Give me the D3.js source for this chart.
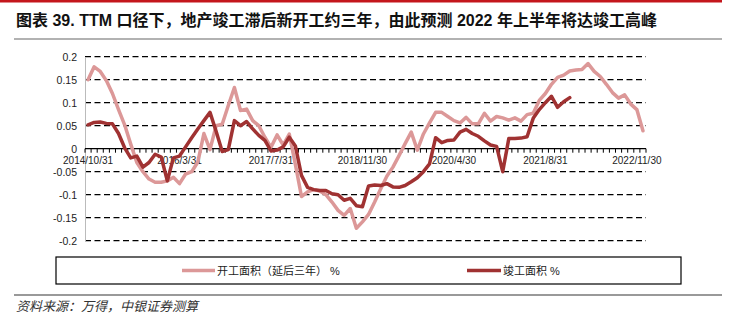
<!DOCTYPE html>
<html>
<head>
<meta charset="utf-8">
<script src="https://cdn.jsdelivr.net/npm/d3@7/dist/d3.min.js"></script>
<style>
  html, body { margin: 0; padding: 0; background: #fff; }
  svg { display: block; }
</style>
</head>
<body>
<svg id="chart" width="732" height="325"></svg>
<script>
// ---------- data ----------
const categories = [
  "2014/10/31","2014/11/30","2014/12/31",
  "2015/2/28","2015/3/31","2015/4/30","2015/5/31","2015/6/30","2015/7/31","2015/8/31","2015/9/30","2015/10/31","2015/11/30","2015/12/31",
  "2016/2/29","2016/3/31","2016/4/30","2016/5/31","2016/6/30","2016/7/31","2016/8/31","2016/9/30","2016/10/31","2016/11/30","2016/12/31",
  "2017/2/28","2017/3/31","2017/4/30","2017/5/31","2017/6/30","2017/7/31","2017/8/31","2017/9/30","2017/10/31","2017/11/30","2017/12/31",
  "2018/2/28","2018/3/31","2018/4/30","2018/5/31","2018/6/30","2018/7/31","2018/8/31","2018/9/30","2018/10/31","2018/11/30","2018/12/31",
  "2019/2/28","2019/3/31","2019/4/30","2019/5/31","2019/6/30","2019/7/31","2019/8/31","2019/9/30","2019/10/31","2019/11/30","2019/12/31",
  "2020/2/29","2020/3/31","2020/4/30","2020/5/31","2020/6/30","2020/7/31","2020/8/31","2020/9/30","2020/10/31","2020/11/30","2020/12/31",
  "2021/2/28","2021/3/31","2021/4/30","2021/5/31","2021/6/30","2021/7/31","2021/8/31","2021/9/30","2021/10/31","2021/11/30","2021/12/31",
  "2022/1/31","2022/2/28","2022/3/31","2022/4/30","2022/5/31","2022/6/30","2022/7/31","2022/8/31","2022/9/30","2022/10/31","2022/11/30","2022/12/31"
];

// 开工面积（延后三年） %
const startsLagged = [
  0.150, 0.178, 0.168, 0.148, 0.120, 0.085, 0.052, 0.010, -0.030, -0.050,
  -0.066, -0.073, -0.073, -0.070, -0.062, -0.076, -0.055, -0.050, -0.029, 0.033,
  -0.002, 0.050, 0.053, 0.094, 0.133, 0.083, 0.086, 0.061, 0.050, 0.025,
  0.003, 0.030, 0.008, 0.032, -0.034, -0.104, -0.094, -0.089, -0.092, -0.100,
  -0.116, -0.134, -0.145, -0.130, -0.173, -0.159, -0.143, -0.116, -0.087, -0.060,
  -0.040, -0.015, 0.011, 0.036, -0.003, 0.032, 0.056, 0.079, 0.079, 0.070,
  0.061, 0.056, 0.068, 0.054, 0.054, 0.077, 0.060, 0.070, 0.067, 0.062,
  0.067, 0.060, 0.074, 0.077, 0.105, 0.120, 0.140, 0.155, 0.160, 0.169,
  0.171, 0.172, 0.185, 0.168, 0.157, 0.140, 0.122, 0.110, 0.117, 0.097,
  0.085, 0.039
];

// 竣工面积 %
const completions = [
  0.052, 0.057, 0.058, 0.055, 0.054, 0.033, 0.002, -0.020, -0.016, -0.040,
  -0.030, -0.012, -0.018, -0.070, -0.020, -0.016, 0.004, 0.024, 0.043, 0.061,
  0.079, 0.038, -0.006, -0.002, 0.061, 0.050, 0.059, 0.043, 0.029, 0.018,
  -0.005, -0.003, 0.004, 0.025, 0.006, -0.058, -0.084, -0.089, -0.091, -0.091,
  -0.098, -0.100, -0.112, -0.108, -0.124, -0.126, -0.081, -0.079, -0.080, -0.076,
  -0.083, -0.084, -0.080, -0.072, -0.063, -0.050, -0.033, 0.024, 0.013, 0.018,
  0.019, 0.036, 0.042, 0.033, 0.027, 0.017, 0.008, 0.005, -0.050, 0.022,
  0.022, 0.023, 0.026, 0.066, 0.085, 0.100, 0.114, 0.090, 0.102, 0.111
];

const xTickLabels = ["2014/10/31","2016/3/31","2017/7/31","2018/11/30","2020/4/30","2021/8/31","2022/11/30"];
const yTicks = [-0.2, -0.15, -0.1, -0.05, 0, 0.05, 0.1, 0.15, 0.2];
const yTickLabels = ["-0.2","-0.15","-0.1","-0.05","0","0.05","0.1","0.15","0.2"];
const seriesNames = ["开工面积（延后三年） %", "竣工面积 %"];
const titleText = "图表 39. TTM 口径下，地产竣工滞后新开工约三年，由此预测 2022 年上半年将达竣工高峰";
const sourceText = "资料来源：万得，中银证券测算";

// ---------- drawing ----------
const latin = "'Liberation Sans', Arial, 'Noto Sans CJK SC', sans-serif";
const cjk = "'Liberation Sans', 'Noto Sans CJK SC', sans-serif";
const lightColor = "#dc9898";
const darkColor = "#a03232";

const svg = d3.select("#chart");
svg.append("rect").attr("width", 732).attr("height", 325).attr("fill", "#fff");

// top red rule
svg.append("rect").attr("x", 0).attr("y", 0).attr("width", 722).attr("height", 2.5).attr("fill", "#c4161c");

// title
svg.append("text")
  .attr("x", 16).attr("y", 26)
  .attr("font-family", cjk).attr("font-size", 16).attr("font-weight", "bold")
  .attr("fill", "#111")
  .text(titleText);

svg.append("line").attr("x1", 14).attr("x2", 722).attr("y1", 39).attr("y2", 39)
  .attr("stroke", "#999").attr("stroke-width", 1.5);

const plot = { left: 85, right: 646, top: 56.7, bottom: 240.7 };

const x = d3.scaleBand().domain(categories).range([plot.left, plot.right]).paddingInner(0).paddingOuter(0);
const y = d3.scaleLinear().domain([-0.2, 0.2]).range([plot.bottom, plot.top]);
const cx = c => x(c) + x.bandwidth() / 2;

// gridlines (dashed)
svg.append("g").selectAll("line").data(yTicks.filter(v => v !== 0)).join("line")
  .attr("x1", plot.left).attr("x2", plot.right)
  .attr("y1", d => y(d)).attr("y2", d => y(d))
  .attr("stroke", "#000").attr("stroke-width", 1.2)
  .attr("stroke-dasharray", "6,3.5");

// y axis
const yAxis = svg.append("g").attr("transform", `translate(${plot.left},0)`)
  .call(d3.axisLeft(y).tickValues(yTicks).tickSize(0).tickPadding(8)
    .tickFormat((d, i) => yTickLabels[i]));
yAxis.select(".domain").attr("stroke", "#bbb").attr("stroke-width", 1);
yAxis.selectAll("text").attr("font-family", latin).attr("font-size", 10.5).attr("fill", "#222");

// x axis at zero
const xAxis = svg.append("g").attr("transform", `translate(0,${y(0)})`)
  .call(d3.axisBottom(x).tickValues(xTickLabels).tickSize(0).tickPadding(8));
xAxis.select(".domain").remove();
xAxis.selectAll("text").attr("font-family", latin).attr("font-size", 10).attr("fill", "#222");

svg.append("line").attr("x1", plot.left).attr("x2", plot.right)
  .attr("y1", y(0)).attr("y2", y(0)).attr("stroke", "#000").attr("stroke-width", 1.3);

// category boundary ticks
const boundaries = categories.map(c => x(c)).concat([plot.right]);
svg.append("g").selectAll("line").data(boundaries).join("line")
  .attr("x1", d => d).attr("x2", d => d)
  .attr("y1", y(0)).attr("y2", y(0) + 4)
  .attr("stroke", "#000").attr("stroke-width", 1);

// lines
const line = d3.line()
  .defined(d => d.v != null)
  .x(d => cx(d.c))
  .y(d => y(d.v));

const lightData = categories.map((c, i) => ({ c, v: i < startsLagged.length ? startsLagged[i] : null }));
const darkData = categories.map((c, i) => ({ c, v: i < completions.length ? completions[i] : null }));

svg.append("path").datum(lightData).attr("d", line)
  .attr("fill", "none").attr("stroke", lightColor).attr("stroke-width", 3.5)
  .attr("stroke-linejoin", "round").attr("stroke-linecap", "round");
svg.append("path").datum(darkData).attr("d", line)
  .attr("fill", "none").attr("stroke", darkColor).attr("stroke-width", 3.5)
  .attr("stroke-linejoin", "round").attr("stroke-linecap", "round");

// legend
svg.append("rect").attr("x", 56).attr("y", 257).attr("width", 625).attr("height", 27)
  .attr("fill", "none").attr("stroke", "#000").attr("stroke-width", 1.2);
const legendItems = [
  { name: seriesNames[0], color: lightColor, x0: 182, x1: 215 },
  { name: seriesNames[1], color: darkColor, x0: 467, x1: 501 }
];
const lg = svg.append("g").selectAll("g").data(legendItems).join("g");
lg.append("line").attr("x1", d => d.x0).attr("x2", d => d.x1).attr("y1", 270.5).attr("y2", 270.5)
  .attr("stroke", d => d.color).attr("stroke-width", 3.5);
lg.append("text").attr("x", d => d.x1 + 2).attr("y", 274.5)
  .attr("font-family", cjk).attr("font-size", 11).attr("fill", "#222")
  .text(d => d.name);

// bottom rule and source
svg.append("line").attr("x1", 14).attr("x2", 722).attr("y1", 295).attr("y2", 295)
  .attr("stroke", "#999").attr("stroke-width", 2);
svg.append("text").attr("x", 16).attr("y", 311)
  .attr("font-family", cjk).attr("font-size", 13).attr("font-style", "italic").attr("fill", "#333")
  .text(sourceText);
</script>
</body>
</html>
